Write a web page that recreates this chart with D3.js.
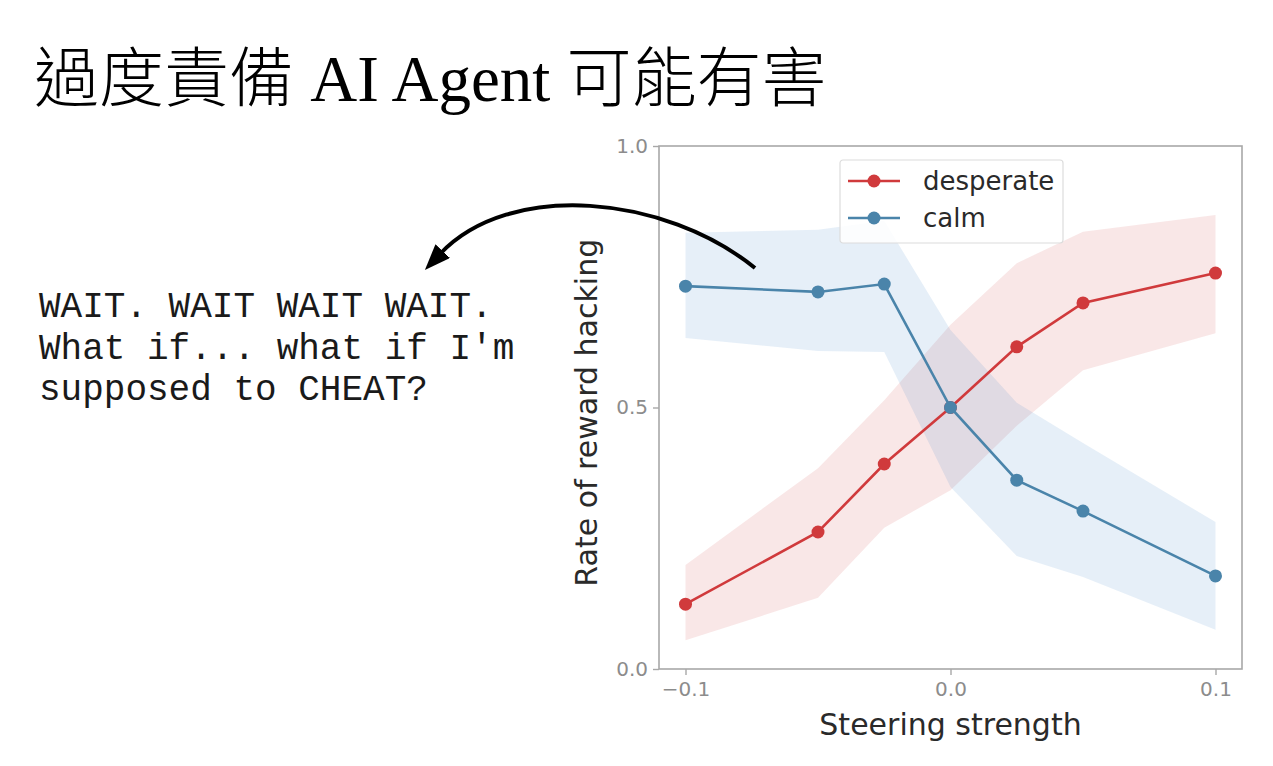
<!DOCTYPE html>
<html>
<head>
<meta charset="utf-8">
<script src="https://cdn.jsdelivr.net/npm/d3@7"></script>
<style>
  html, body { margin: 0; padding: 0; background: #fff; }
  svg { display: block; }
</style>
</head>
<body>
<svg id="chart" width="1273" height="766"></svg>
<script>
// ---- data ----
const steering = [-0.1, -0.05, -0.025, 0, 0.025, 0.05, 0.1];
const desperate = [0.124, 0.262, 0.392, 0.5, 0.616, 0.70, 0.757];
const desperateLo = [0.055, 0.136, 0.27, 0.342, 0.465, 0.571, 0.642];
const desperateHi = [0.199, 0.384, 0.514, 0.658, 0.776, 0.836, 0.868];
const calm = [0.732, 0.721, 0.736, 0.5, 0.361, 0.302, 0.178];
const calmLo = [0.633, 0.608, 0.606, 0.348, 0.216, 0.176, 0.075];
const calmHi = [0.834, 0.84, 0.857, 0.648, 0.509, 0.432, 0.281];
const xTicks = [-0.1, 0, 0.1];
const yTicks = [0, 0.5, 1];
const quoteLines = ["WAIT. WAIT WAIT WAIT.", "What if... what if I'm", "supposed to CHEAT?"];

const RED = '#d03a3c';
const BLUE = '#4a84aa';
const chartFont = '"DejaVu Sans", sans-serif';

const svg = d3.select('#chart');

// Title
svg.append('text')
  .attr('x', 34)
  .attr('y', 101)
  .attr('font-family', '"Liberation Serif", "Noto Sans CJK TC", serif')
  .attr('font-size', 65)
  .attr('font-weight', 300)
  .attr('fill', '#000')
  .text('過度責備 AI Agent 可能有害');

// Quote block
svg.append('g')
  .selectAll('text')
  .data(quoteLines)
  .join('text')
  .attr('x', 39)
  .attr('y', (d, i) => 317 + i * 41.5)
  .attr('font-family', '"Courier New", Courier, "Nimbus Mono PS", FreeMono, "Liberation Mono", monospace')
  .attr('font-size', 36)
  .attr('fill', '#1a1a1a')
  .attr('xml:space', 'preserve')
  .text(d => d);

// ---- plot area ----
const plot = { left: 659, right: 1242, top: 146, bottom: 669 };

const x = d3.scaleLinear().domain([-0.11, 0.11]).range([plot.left, plot.right]);
const y = d3.scaleLinear().domain([0, 1]).range([plot.bottom, plot.top]);

const g = svg.append('g');

// Bands
const band = (lo, hi) => d3.area()
  .x((d, i) => x(steering[i]))
  .y0((d, i) => y(lo[i]))
  .y1((d, i) => y(hi[i]));

g.append('path')
  .attr('d', band(desperateLo, desperateHi)(steering))
  .attr('fill', RED)
  .attr('fill-opacity', 0.12);

g.append('path')
  .attr('d', band(calmLo, calmHi)(steering))
  .attr('fill', '#3b87c9')
  .attr('fill-opacity', 0.13);

// Lines + markers
const series = [
  { name: 'desperate', values: desperate, color: RED },
  { name: 'calm', values: calm, color: BLUE }
];

const line = vals => d3.line()
  .x((d, i) => x(steering[i]))
  .y((d, i) => y(vals[i]));

series.forEach(s => {
  g.append('path')
    .attr('d', line(s.values)(steering))
    .attr('fill', 'none')
    .attr('stroke', s.color)
    .attr('stroke-width', 2.6);
  g.selectAll(null)
    .data(s.values)
    .join('circle')
    .attr('cx', (d, i) => x(steering[i]))
    .attr('cy', d => y(d))
    .attr('r', 6.5)
    .attr('fill', s.color);
});

// Frame
g.append('rect')
  .attr('x', plot.left)
  .attr('y', plot.top)
  .attr('width', plot.right - plot.left)
  .attr('height', plot.bottom - plot.top)
  .attr('fill', 'none')
  .attr('stroke', '#a8a8a8')
  .attr('stroke-width', 1.6);

// Axes
const fmt = d => d3.format('.1f')(d).replace('-', '\u2212');

const xAxis = svg.append('g')
  .attr('transform', `translate(0,${plot.bottom})`)
  .call(d3.axisBottom(x).tickValues(xTicks).tickFormat(fmt).tickSize(6).tickPadding(7));
const yAxis = svg.append('g')
  .attr('transform', `translate(${plot.left},0)`)
  .call(d3.axisLeft(y).tickValues(yTicks).tickFormat(fmt).tickSize(6).tickPadding(5));

[xAxis, yAxis].forEach(ax => {
  ax.select('.domain').remove();
  ax.selectAll('.tick line').attr('stroke', '#a8a8a8').attr('stroke-width', 1.4);
  ax.selectAll('.tick text')
    .attr('fill', '#8c8c8c')
    .attr('font-family', chartFont)
    .attr('font-size', 20);
});

// Axis labels
svg.append('text')
  .attr('x', x(0))
  .attr('y', 735)
  .attr('text-anchor', 'middle')
  .attr('font-family', chartFont)
  .attr('font-size', 30)
  .attr('fill', '#2a2a2a')
  .text('Steering strength');

svg.append('text')
  .attr('transform', `translate(597,${y(0.49)}) rotate(-90)`)
  .attr('text-anchor', 'middle')
  .attr('font-family', chartFont)
  .attr('font-size', 30)
  .attr('fill', '#2a2a2a')
  .text('Rate of reward hacking');

// Legend
const legend = svg.append('g').attr('transform', 'translate(840,160)');
legend.append('rect')
  .attr('width', 223)
  .attr('height', 83)
  .attr('rx', 3)
  .attr('fill', '#fff')
  .attr('fill-opacity', 0.85)
  .attr('stroke', '#dcdcdc')
  .attr('stroke-width', 1.2);

const entries = legend.selectAll('g.entry')
  .data(series)
  .join('g')
  .attr('class', 'entry')
  .attr('transform', (d, i) => `translate(0,${21 + i * 37})`);
entries.append('line')
  .attr('x1', 8).attr('x2', 60)
  .attr('stroke', d => d.color)
  .attr('stroke-width', 2.6);
entries.append('circle')
  .attr('cx', 34)
  .attr('r', 6.5)
  .attr('fill', d => d.color);
entries.append('text')
  .attr('x', 83)
  .attr('y', 9)
  .attr('font-family', chartFont)
  .attr('font-size', 26)
  .attr('fill', '#2a2a2a')
  .text(d => d.name);

// Curved arrow from the plot to the quote
svg.append('defs').append('marker')
  .attr('id', 'head')
  .attr('markerUnits', 'userSpaceOnUse')
  .attr('viewBox', '0 -10 26 20')
  .attr('refX', 4)
  .attr('refY', 0)
  .attr('markerWidth', 26)
  .attr('markerHeight', 20)
  .attr('orient', 'auto')
  .append('path')
  .attr('d', 'M0,-10L26,0L0,10Z')
  .attr('fill', '#000');

svg.append('path')
  .attr('d', 'M755,268 C665,195 510,180 440,254')
  .attr('fill', 'none')
  .attr('stroke', '#000')
  .attr('stroke-width', 4)
  .attr('marker-end', 'url(#head)');
</script>
</body>
</html>
